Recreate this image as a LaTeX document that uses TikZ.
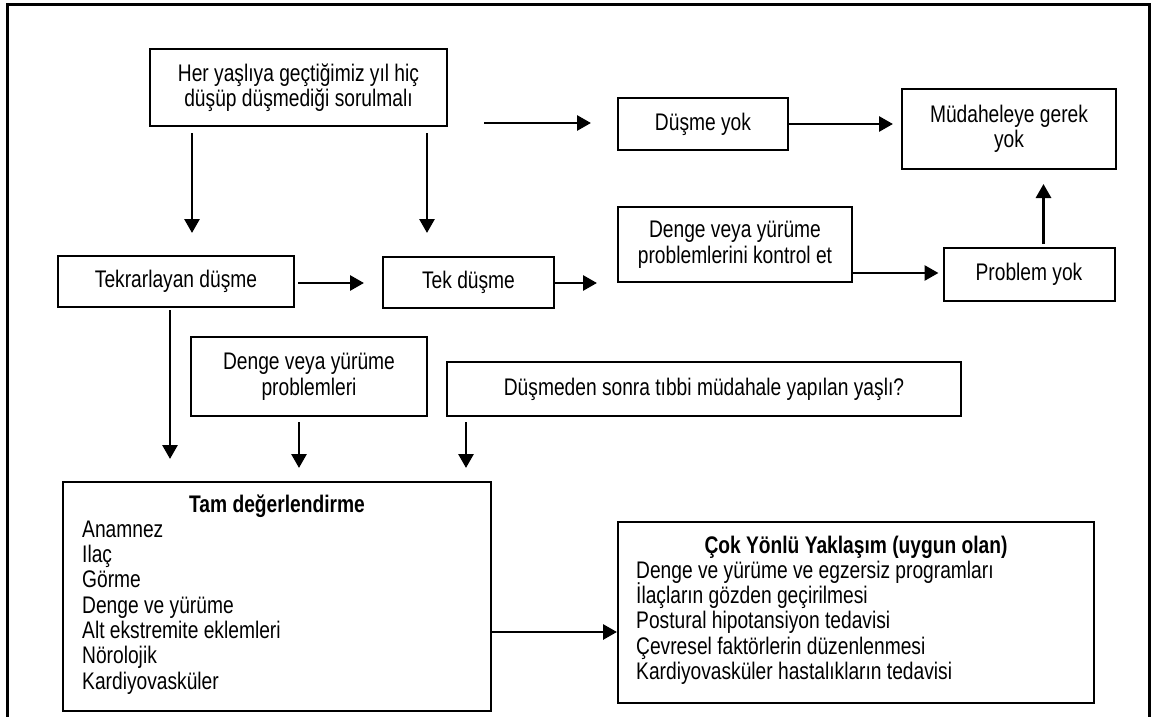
\documentclass[tikz,border=0pt]{standalone}
\usepackage{fontspec}
\setmainfont[FakeStretch=0.8]{Liberation Sans}
\usetikzlibrary{arrows.meta}

\tikzset{
  box/.style={draw,line width=2pt,align=center,inner sep=2pt},
  arr/.style={line width=2.9pt,-{Triangle[length=14pt,width=15pt]}},
  frame/.style={line width=3pt},
  every node/.style={font=\fontsize{24}{25.5}\selectfont}
}

\begin{document}
\begin{tikzpicture}[x=1pt,y=-1pt]
\useasboundingbox (0,0) rectangle (1163,717);
\draw[frame] (7,725) -- (7,5) -- (1149,5) -- (1149,725);

% boxes
\node[box,minimum width=297pt,minimum height=77pt] (soru) at (298.5,87.5) {Her yaşlıya geçtiğimiz yıl hiç\\düşüp düşmediği sorulmalı};
\node[box,minimum width=170pt,minimum height=52pt] (dyok) at (703,124) {Düşme yok};
\node[box,minimum width=214pt,minimum height=80pt] (gerek) at (1009,129) {Müdaheleye gerek\\yok};
\node[box,minimum width=236pt,minimum height=51pt] (tekrar) at (176,281.5) {Tekrarlayan düşme};
\node[box,minimum width=171pt,minimum height=51pt] (tek) at (468.5,282.5) {Tek düşme};
\node[box,minimum width=234pt,minimum height=75pt] (kontrol) at (735,244.5) {Denge veya yürüme\\problemlerini kontrol et};
\node[box,minimum width=171pt,minimum height=53pt] (pyok) at (1029,274.5) {Problem yok};
\node[box,minimum width=236pt,minimum height=79pt] (dprob) at (309,376.5) {Denge veya yürüme\\problemleri};
\node[box,minimum width=514pt,minimum height=54pt] (tibbi) at (704,389) {Düşmeden sonra tıbbi müdahale yapılan yaşlı?};
\node[box,minimum width=428pt,minimum height=229pt] (tam) at (277,596.5) {};
\node[box,minimum width=476pt,minimum height=181pt] (cok) at (856,612.5) {};

% box texts
\node[anchor=base,font=\fontsize{24}{25.5}\selectfont\bfseries] (tamh) at (277,512) {Tam değerlendirme};
\foreach \t [count=\i] in {Anamnez,Ilaç,Görme,Denge ve yürüme,Alt ekstremite eklemleri,Nörolojik,Kardiyovasküler}
  \node[anchor=base west,inner sep=0pt] (tam-\i) at (82,512+25.3*\i) {\t};
\node[anchor=base,font=\fontsize{24}{25.5}\selectfont\bfseries] (cokh) at (856,553) {Çok Yönlü Yaklaşım (uygun olan)};
\foreach \t [count=\i] in {Denge ve yürüme ve egzersiz programları,İlaçların gözden geçirilmesi,Postural hipotansiyon tedavisi,Çevresel faktörlerin düzenlenmesi,Kardiyovasküler hastalıkların tedavisi}
  \node[anchor=base west,inner sep=0pt] (cok-\i) at (636,553+25.3*\i) {\t};

% arrow ends
\coordinate (a1) at (192,133);   \coordinate (b1) at (192,233);
\coordinate (a2) at (427,133);   \coordinate (b2) at (427,233);
\coordinate (a3) at (484,123);   \coordinate (b3) at (591,123);
\coordinate (a4) at (298,283);   \coordinate (b4) at (364,283);
\coordinate (a5) at (555,283);   \coordinate (b5) at (597,283);
\coordinate (a6) at (170,310);   \coordinate (b6) at (170,459);
\coordinate (a7) at (299,422);   \coordinate (b7) at (299,468);
\coordinate (a8) at (466,422);   \coordinate (b8) at (466,468);

\draw[arr] (a1) -- (b1);
\draw[arr] (a2) -- (b2);
\draw[arr] (a3) -- (b3);
\draw[arr] (a4) -- (b4);
\draw[arr] (a5) -- (b5);
\draw[arr] (a6) -- (b6);
\draw[arr] (a7) -- (b7);
\draw[arr] (a8) -- (b8);
\draw[arr] (dyok.east) -- ([xshift=-8pt]gerek.west |- dyok.east);
\draw[arr] (kontrol.east |- 0,273) -- ([xshift=-4pt]pyok.west |- 0,273);
\draw[arr] ([yshift=3pt]pyok.north -| 1043.5,0) -- ([yshift=-14pt]gerek.south -| 1043.5,0);
\draw[arr] (tam.east |- 0,632) -- (cok.west |- 0,632);
\end{tikzpicture}
\end{document}
